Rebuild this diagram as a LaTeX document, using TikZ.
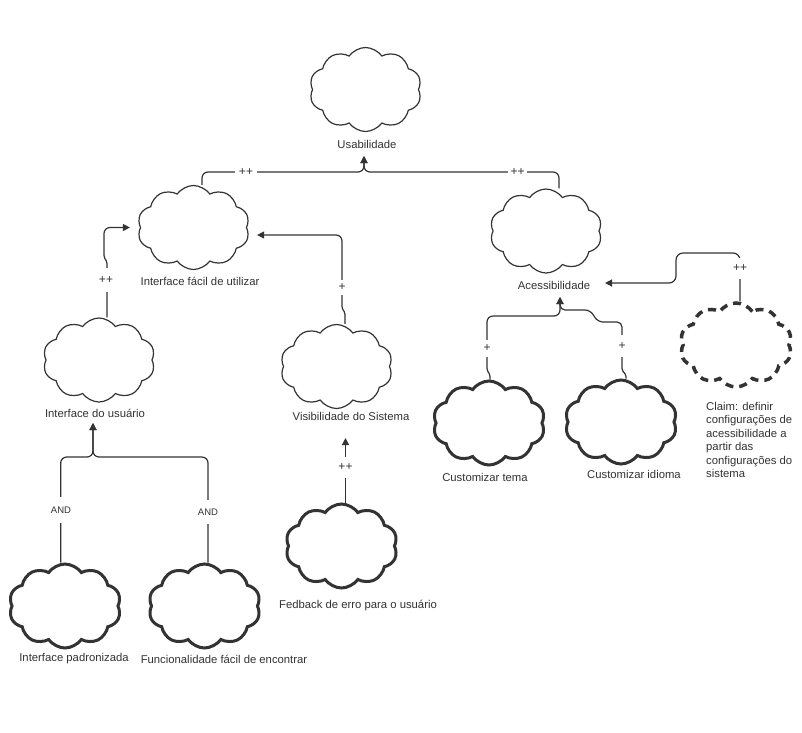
\documentclass[tikz,border=0pt]{standalone}
\usepackage{fontspec}
\setmainfont{Liberation Sans}
\usetikzlibrary{shapes.symbols,arrows.meta}
\definecolor{ink}{HTML}{333333}
\begin{document}
\begin{tikzpicture}[x=1pt,y=-1pt,
  cl/.style={cloud, cloud puffs=10, cloud puff arc=110, draw=ink, line width=1.2pt,
    minimum width=112pt, minimum height=84pt, inner sep=0pt},
  clthick/.style={cl, line width=3pt},
  cldash/.style={cl, line width=3.5pt, dash pattern=on 8pt off 6pt},
  lab/.style={font=\fontsize{11.3}{13.5}\selectfont, text=ink, inner sep=1pt},
  rel/.style={font=\fontsize{12}{14}\selectfont, text=ink, fill=white, inner sep=0pt},
  andl/.style={font=\fontsize{9.5}{11}\selectfont, text=ink, fill=white, inner sep=0pt},
  conn/.style={draw=ink, line width=1.2pt, rounded corners=6pt, -{Triangle[length=7pt,width=7pt]}},
  ]
\useasboundingbox[fill=white] (0,0) rectangle (802,732);

% clouds
\node[cl] (U) at (365.5,89.5) {};
\node[cl] (IF) at (193.5,227.5) {};
\node[cl] (AC) at (546,231) {};
\node[cl] (IU) at (99,360) {};
\node[cl] (Vis) at (336.5,366.5) {};
\node[clthick] (Fed) at (341.5,546) {};
\node[clthick] (IP) at (65,606) {};
\node[clthick] (Func) at (204.5,606) {};
\node[clthick] (CT) at (489,423) {};
\node[clthick] (CI) at (621,422) {};
\node[cldash] (Claim) at (736,345) {};

% labels
\node[lab] (Ulab) at (367,144) {Usabilidade};
\node[lab] (IFlab) at (200,281) {Interface fácil de utilizar};
\node[lab] (AClab) at (554,285) {Acessibilidade};
\node[lab] (IUlab) at (95,413) {Interface do usuário};
\node[lab] (Vislab) at (351,416) {Visibilidade do Sistema};
\node[lab] (Fedlab) at (358,605) {Fedback de erro para o usuário};
\node[lab] (IPlab) at (74,659) {Interface padronizada};
\node[lab] (Funclab) at (224,659) {Funcionalidade fácil de encontrar};
\node[lab] (CTlab) at (485,477) {Customizar tema};
\node[lab] (CIlab) at (634,474) {Customizar idioma};
\node[lab, anchor=north west, align=left] (Claimlab) at (705,401)
  {Claim: definir\\configurações de\\acessibilidade a\\partir das\\configurações do\\sistema};

% junctions and arrow ends
\coordinate (jU) at (364,172);
\coordinate (tU) at (364,156);
\coordinate (jI) at (93,457);
\coordinate (tI) at (93,423);
\coordinate (jA) at (560,316);
\coordinate (tA) at (560,297);
\coordinate (tV) at (345.5,438);
\coordinate (tC) at (605,283);

% connectors
\draw[conn] ([xshift=8.5]IF.north) |- (jU) -- (tU);
\draw[conn] ([xshift=13]AC.north) |- (jU) -- (tU);
\node[rel, minimum width=22pt] (r1) at (246,172) {++};
\node[rel, minimum width=19pt] (r2) at (517.5,172) {++};

\draw[conn, rounded corners=1.5pt] ([xshift=8]IU.north) -- (107,262) -- (104,257)
  [rounded corners=6pt] |- ([xshift=-10]IF.west);
\node[rel, minimum height=24pt] (r3) at (106,280) {++};

\draw[conn, rounded corners=1.5pt] ([xshift=8.5]Vis.north) -- (345,313) -- (342,308)
  [rounded corners=6pt] |- ([shift={(10,7.5)}]IF.east);
\node[rel, minimum height=15pt] (r4) at (342,287.5) {+};

\draw[conn] (Fed.north -| tV) -- (tV);
\node[rel, minimum height=21pt] (r5) at (345.5,467.5) {++};

\draw[conn] ([xshift=-4.3]IP.north) |- (jI) -- (tI);
\draw[conn] ([xshift=3.5]Func.north) |- (jI) -- (tI);
\node[andl, minimum height=26pt] (a1) at (61,510) {AND};
\node[andl, minimum height=24pt] (a2) at (208,512) {AND};

\draw[conn, rounded corners=1.5pt] ([xshift=1]CT.north) -- (490,375) -- (487,370)
  [rounded corners=6pt] |- (jA) -- (tA);
\draw[conn, rounded corners=1.5pt] ([xshift=5]CI.north) -- (626,375) -- (622,370)
  [rounded corners=5pt] -- (622,322) -- (598,322) -- (590,310) -- (560,310) -- (tA);
\node[rel, minimum height=17pt] (r6) at (487,348.5) {+};
\node[rel, minimum height=22pt] (r7) at (622,346) {+};

\draw[conn, rounded corners=7pt] ([xshift=4]Claim.north) |- (676,253) |- (tC);
\node[rel, minimum height=21pt] (r8) at (740,268.5) {++};
\end{tikzpicture}
\end{document}
